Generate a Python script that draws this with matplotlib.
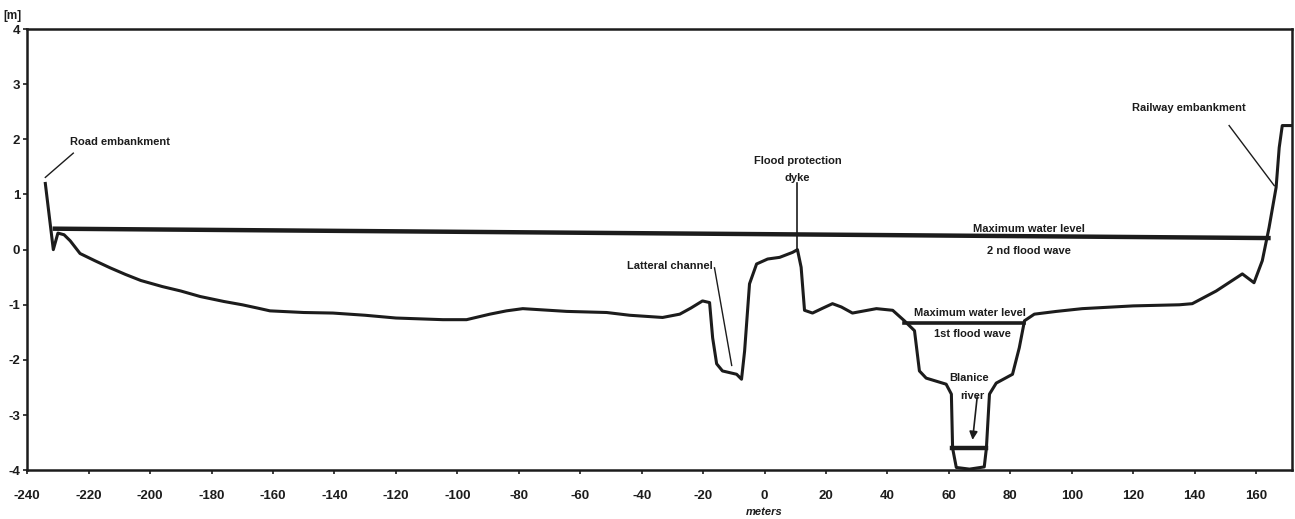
import matplotlib
matplotlib.use("Agg")
import matplotlib.pyplot as plt

# ---- data ----
profile_x = [-234.1, -231.5, -230.0, -228.0, -226.0, -222.8, -218.0, -213.0, -208.0, -203.0,
             -196.0, -190.0, -183.7, -176.0, -170.0, -165.0, -161.0, -150.0, -140.5, -130.0,
             -120.0, -104.7, -97.0, -89.4, -84.0, -78.7, -64.4, -51.4, -43.9,
             -33.2, -27.6, -24.0, -20.2, -17.9, -16.9, -15.6, -13.7, -9.1, -7.5, -6.5,
             -4.9, -2.6, 1.0, 4.9, 9.1, 10.7, 11.9, 13.0, 15.6, 19.0, 22.1, 25.0, 28.6,
             36.4, 41.7, 45.5, 48.8, 50.4, 52.6, 59.1, 60.8, 61.2, 62.4,
             66.7, 71.5, 72.2, 73.2, 75.4, 80.7, 82.9, 84.6, 87.8, 95.0, 103.4,
             120.0, 135.0, 139.2, 147.0, 155.5, 159.3, 162.0, 164.2, 166.5, 167.5, 168.5, 171.5]
profile_y = [1.2, 0.0, 0.3, 0.27, 0.16, -0.07, -0.2, -0.33, -0.45, -0.56,
             -0.67, -0.75, -0.85, -0.94, -1.0, -1.06, -1.11, -1.14, -1.15, -1.19,
             -1.24, -1.27, -1.27, -1.17, -1.11, -1.07, -1.12, -1.14, -1.19,
             -1.23, -1.17, -1.06, -0.93, -0.96, -1.6, -2.07, -2.2, -2.26, -2.35, -1.84,
             -0.62, -0.26, -0.17, -0.14, -0.05, 0.0, -0.32, -1.1, -1.15, -1.06, -0.98, -1.04, -1.15,
             -1.07, -1.1, -1.29, -1.47, -2.2, -2.33, -2.44, -2.62, -3.6, -3.95,
             -3.98, -3.94, -3.6, -2.62, -2.42, -2.26, -1.78, -1.29, -1.17, -1.12, -1.07,
             -1.02, -1.0, -0.98, -0.75, -0.44, -0.6, -0.2, 0.4, 1.13, 1.85, 2.25, 2.25]

flood2_x = [-231.0, 164.0]
flood2_y = [0.38, 0.21]
flood1_x = [45.5, 84.6]
flood1_y = [-1.33, -1.33]
river_x = [61.0, 72.2]
river_y = [-3.6, -3.6]

x_ticks = list(range(-240, 161, 20))
y_ticks = [-4, -3, -2, -1, 0, 1, 2, 3, 4]

plt.rcParams['font.family'] = ['Liberation Sans', 'DejaVu Sans']
plt.rcParams['axes.unicode_minus'] = False

fig = plt.figure(figsize=(12.95, 5.19), dpi=100)
ax = fig.add_axes([0.021, 0.094, 0.977, 0.850])
ax.set_xlim(-240, 171.8)
ax.set_ylim(-4, 4)

ink = '#1c1c1c'
ax.plot(profile_x, profile_y, color=ink, lw=2.2, solid_joinstyle='round')
ax.plot(flood2_x, flood2_y, color=ink, lw=3.2)
ax.plot(flood1_x, flood1_y, color=ink, lw=2.6)
ax.plot(river_x, river_y, color=ink, lw=3.2)

for s in ax.spines.values():
    s.set_linewidth(1.8)
    s.set_color(ink)

ax.set_xticks(x_ticks)
ax.set_yticks(y_ticks)
ax.tick_params(axis='x', direction='out', length=3, width=1.2, pad=11,
               labelsize=9.5, colors=ink)
ax.tick_params(axis='y', direction='out', length=3, width=1.2, pad=2,
               labelsize=9.5, colors=ink)
for lab in ax.get_xticklabels() + ax.get_yticklabels():
    lab.set_fontweight('bold')

ax.text(-0.012, 1.015, '[m]', transform=ax.transAxes, fontsize=8.5,
        fontweight='bold', ha='center', va='bottom', color=ink)
ax.text(0, -4.75, 'meters', fontsize=8, fontstyle='italic', fontweight='bold',
        ha='center', va='center', color=ink)

tkw = dict(fontsize=8, fontweight='bold', color=ink)
# Road embankment
ax.text(-226, 1.95, 'Road embankment', ha='left', va='center', **tkw)
ax.plot([-234.1, -225.0], [1.31, 1.75], color=ink, lw=1.0)
# Flood protection dyke
ax.text(10.7, 1.6, 'Flood protection', ha='center', va='center', **tkw)
ax.text(10.7, 1.3, 'dyke', ha='center', va='center', **tkw)
ax.plot([10.7, 10.7], [1.2, 0.0], color=ink, lw=1.2)
# Lateral channel
ax.text(-17.0, -0.3, 'Latteral channel', ha='right', va='center', **tkw)
ax.plot([-16.3, -10.7], [-0.33, -2.1], color=ink, lw=1.0)
# Maximum water level 2nd flood wave
ax.text(86, 0.38, 'Maximum water level', ha='center', va='center', **tkw)
ax.text(86, -0.02, '2 nd flood wave', ha='center', va='center', **tkw)
# Maximum water level 1st flood wave
ax.text(66.7, -1.15, 'Maximum water level', ha='center', va='center', **tkw)
ax.text(67.6, -1.53, '1st flood wave', ha='center', va='center', **tkw)
# Blanice river
ax.text(66.7, -2.33, 'Blanice', ha='center', va='center', **tkw)
ax.text(67.5, -2.65, 'river', ha='center', va='center', **tkw)
ax.annotate('', xy=(67.6, -3.5), xytext=(69.3, -2.62),
            arrowprops=dict(arrowstyle='-|>', color=ink, lw=1.2, mutation_scale=12))
# Railway embankment
ax.text(138, 2.56, 'Railway embankment', ha='center', va='center', **tkw)
ax.plot([151.2, 165.9], [2.25, 1.16], color=ink, lw=1.0)

fig.savefig('out.png', dpi=100, facecolor='white')
